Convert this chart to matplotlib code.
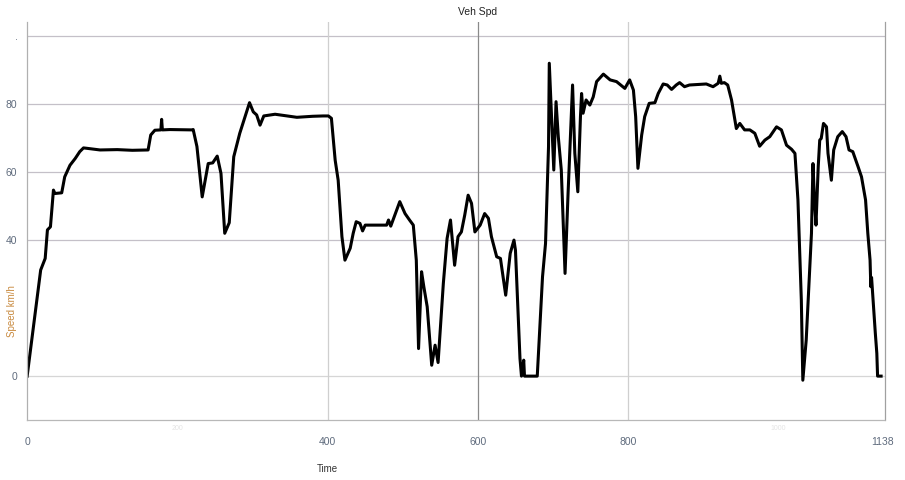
import numpy as np
import matplotlib.pyplot as plt

plt.rcParams['font.family'] = ['Liberation Sans Narrow', 'Liberation Sans', 'DejaVu Sans']

# vehicle speed trace (time in s, speed in km/h)
time_s = [0, 18, 24, 27, 31, 35, 37, 46, 50, 57, 64, 70, 75, 79, 97, 120, 140, 161,
          164.5, 170, 178, 179, 180, 190, 219, 221, 226, 233, 241, 247, 253, 258, 263,
          269, 275, 283, 290, 296, 301, 305.5, 310, 315, 330, 359, 380, 394, 401, 405,
          410, 414, 419, 423, 430, 434, 438, 443, 446.5, 450, 478.5, 481, 484, 496, 503,
          509, 514, 518, 521, 525, 528, 532.5, 538.5, 543, 547, 554, 559, 563.5, 569,
          573.5, 578, 582.5, 587, 591.5, 596, 603, 609, 614, 618, 625, 630, 637, 643,
          648, 650, 656, 658, 661, 662, 679, 686, 690, 694, 695, 698, 701, 704, 707,
          711, 716, 720, 726, 729, 733, 736.5, 738, 740, 744, 749, 753.5, 758, 767,
          776, 784.5, 795.6, 802, 807, 810, 813, 818, 822, 828, 835.6, 840, 846.6, 852,
          857.8, 864, 868.5, 875, 881.6, 904, 913, 919.8, 922, 924, 928, 932.5, 937.6,
          942, 944, 948.6, 955, 962, 968.6, 975, 982, 988.5, 997.5, 1004, 1010.8,
          1017.5, 1022, 1026, 1030.5, 1032.5, 1037, 1044, 1046, 1048, 1050, 1053,
          1055, 1057, 1060, 1064, 1066, 1070.5, 1073.6, 1079, 1085, 1090, 1094, 1099,
          1106, 1110.6, 1116, 1119, 1122, 1123, 1124, 1129, 1131, 1132, 1136.7]
speed_kmh = [0, 31.2, 34.6, 43, 43.9, 54.7, 53.7, 53.9, 58.6, 62, 64, 66, 67.1, 67, 66.5,
             66.6, 66.4, 66.5, 70.9, 72.3, 72.4, 75.5, 72.4, 72.5, 72.4, 72.5, 67.5, 52.7,
             62.5, 62.7, 64.7, 59.6, 42, 45.1, 64.5, 71.4, 76.3, 80.4, 77.7, 76.8, 73.8,
             76.5, 77, 76.1, 76.4, 76.5, 76.5, 75.8, 63.5, 57.6, 41, 34.1, 37.6, 42, 45.4,
             44.9, 42.7, 44.4, 44.4, 45.9, 44.1, 51.3, 47.8, 45.9, 44.4, 34.1, 8.1, 30.7,
             26.3, 20.4, 3.2, 9.1, 4, 27.3, 40.5, 45.9, 32.6, 41, 42.4, 47.4, 53.2, 50.8,
             42.4, 44.4, 47.8, 46.4, 41, 35.1, 34.6, 23.8, 36.1, 40, 37, 5.2, 0, 4.7, 0, 0,
             29.2, 39, 67.5, 92, 76.3, 60.6, 80.7, 70.4, 60.6, 30.2, 53.7, 85.6, 65.5,
             54.2, 76.3, 83.1, 77.3, 81.2, 79.7, 82.1, 86.6, 88.8, 87.1, 86.6, 84.6, 87.1,
             84.1, 76.3, 61.1, 70.9, 76.3, 80.2, 80.4, 83.1, 85.9, 85.6, 84.3, 85.6, 86.3,
             85.1, 85.6, 85.9, 85.1, 86.1, 88.2, 86.1, 86.3, 85.6, 81.2, 75.3, 72.8, 74.3,
             72.4, 72.4, 71.4, 67.6, 69.4, 70.4, 73.3, 72.4, 67.9, 66.7, 65.5, 51.8, 22.4,
             -1.2, 10.6, 42, 62.5, 51.8, 44.4, 61.6, 69.4, 69.9, 74.3, 73.3, 65.5, 57.6,
             66.5, 70.4, 71.9, 70.4, 66.5, 66, 61.6, 58.6, 51.8, 42, 34.1, 26.3, 29, 12.6,
             6.7, 0, 0]

x_ticks = [0, 400, 600, 800, 1138]
y_ticks = [0, 40, 60, 80, 100]
y_tick_labels = ['0', '40', '60', '80', '.']

fig = plt.figure(figsize=(9.05, 4.8), dpi=100)
ax = fig.add_axes([0.030, 0.125, 0.948, 0.829])

ax.plot(time_s, speed_kmh, color='black', linewidth=2.2, solid_joinstyle='round')

ax.set_xlim(0, 1142)
ax.set_ylim(-12.9, 104.1)

# horizontal grid
for yv in y_ticks:
    ax.axhline(yv, color='#d6d6d6' if yv == 0 else '#c4c0c8', linewidth=0.9,
               zorder=0)
# vertical grid, 600 drawn darker
for xv in [400, 600, 800]:
    ax.axvline(xv, color='#8a8a8a' if xv == 600 else '#cfcfcf', linewidth=0.9,
               zorder=0)

ax.set_xticks(x_ticks)
ax.set_xticklabels([str(v) for v in x_ticks])
ax.set_yticks(y_ticks)
ax.set_yticklabels(y_tick_labels)
ax.tick_params(length=0, labelsize=7.5, colors='#5f6b7d', pad=12)
ax.tick_params(axis='y', pad=7)

# faint secondary labels under the axis
for xv in [200, 1000]:
    ax.text(xv, -14.5, str(xv), fontsize=5, color='#e4e4e4', ha='center', va='top')

ax.spines['top'].set_visible(False)
ax.spines['left'].set_color('#b0b0b0')
ax.spines['right'].set_color('#a0a0a0')
ax.spines['bottom'].set_color('#b8b8b8')
ax.spines['bottom'].set_linestyle((0, (2, 1)))
for side in ['left', 'right', 'bottom']:
    ax.spines[side].set_linewidth(0.9)

ax.set_title('Veh Spd', fontsize=7.5, color='#222222', pad=5, x=(600 / 1142))
ax.set_xlabel('Time', fontsize=7, color='#333333')
ax.xaxis.set_label_coords(400 / 1142, -0.11)
ax.set_ylabel('Speed km/h', fontsize=7, color='#c8893e')
ax.yaxis.set_label_coords(-0.012, 0.274)

fig.savefig('out.png', dpi=100)
plt.close(fig)
